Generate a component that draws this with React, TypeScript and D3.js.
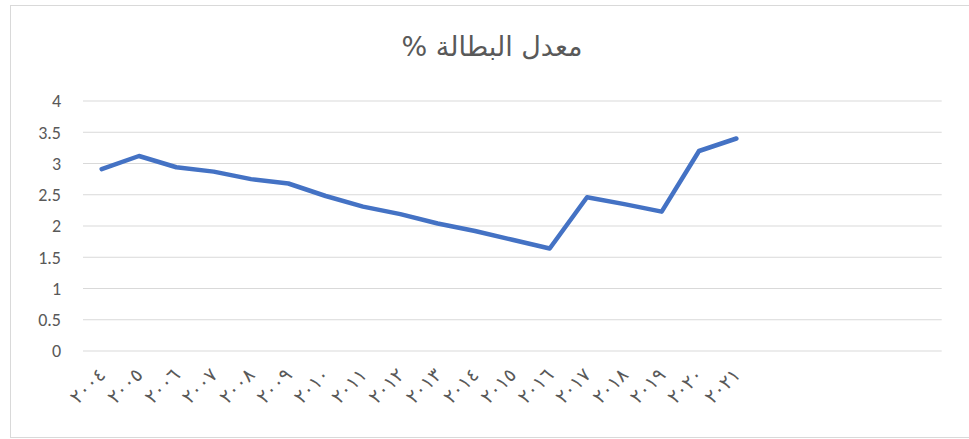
import React from "react";
import * as d3 from "d3";

const TITLE = "معدل البطالة %";
const years = ["٢٠٠٤","٢٠٠٥","٢٠٠٦","٢٠٠٧","٢٠٠٨","٢٠٠٩","٢٠١٠","٢٠١١","٢٠١٢","٢٠١٣","٢٠١٤","٢٠١٥","٢٠١٦","٢٠١٧","٢٠١٨","٢٠١٩","٢٠٢٠","٢٠٢١"];
const emptySlots = ["e1","e2","e3","e4","e5"];
const values = [2.91,3.12,2.94,2.87,2.75,2.68,2.48,2.31,2.19,2.04,1.92,1.78,1.64,2.46,2.35,2.23,3.2,3.4];
const yTicks = [0,0.5,1,1.5,2,2.5,3,3.5,4];

export default function App() {
  const W = 969, H = 439;
  const left = 83, right = 941.7, top = 101, bottom = 351;
  const cats = [...years, ...emptySlots];
  const x = d3.scaleBand<string>().domain(cats).range([left, right]).padding(0);
  const y = d3.scaleLinear().domain([0, 4]).range([bottom, top]);
  const line = d3.line<number>()
    .x((_, i) => (x(years[i]) as number) + x.bandwidth() / 2)
    .y((d) => y(d));
  return (
    <svg width={W} height={H} style={{ position: "absolute", left: 0, top: 0, background: "#fff" }}
      fontFamily="Carlito, Calibri, 'Liberation Sans', Arial, sans-serif">
      <rect x={10.5} y={5.5} width={W} height={432} fill="#fff" stroke="#d9d9d9" strokeWidth={1} />
      <text x={492} y={56} textAnchor="middle" fontSize={27} fill="#595959"
        fontFamily="'DejaVu Sans', 'Noto Sans', sans-serif" direction="rtl">{TITLE}</text>
      {yTicks.map((t) => (
        <g key={t}>
          <line x1={left} x2={right} y1={y(t)} y2={y(t)} stroke="#d9d9d9" strokeWidth={1} />
          <text x={61} y={y(t)} dy="0.35em" textAnchor="end" fontSize={18} fill="#595959">{t}</text>
        </g>
      ))}
      <path d={line(values) || ""} fill="none" stroke="#4472c4" strokeWidth={4.5} strokeLinejoin="round" strokeLinecap="round" />
      {years.map((yr) => {
        const cx = (x(yr) as number) + x.bandwidth() / 2;
        return (
          <text key={yr} transform={`translate(${cx + 5},${376}) rotate(-45)`} textAnchor="end"
            fontSize={19} fill="#595959" fontFamily="'DejaVu Sans', 'Noto Sans', sans-serif" direction="ltr">{yr}</text>
        );
      })}
    </svg>
  );
}
